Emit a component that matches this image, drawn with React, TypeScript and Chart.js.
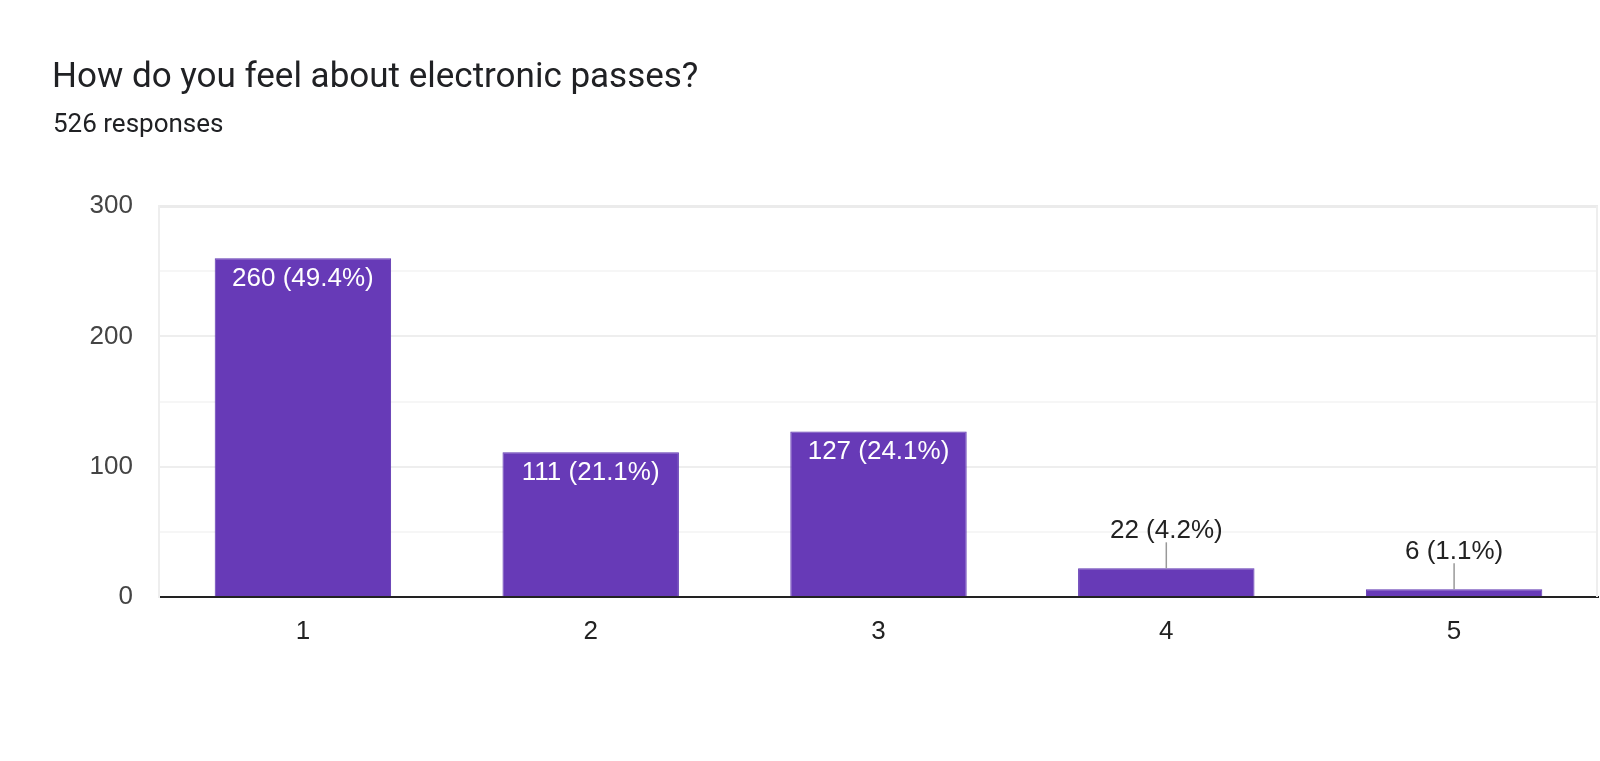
import React, { useEffect, useRef } from "react";
import { Chart, registerables } from "chart.js";

Chart.register(...registerables);

const title = "How do you feel about electronic passes?";
const subtitle = "526 responses";
const categories = ["1", "2", "3", "4", "5"];
const responses = [260, 111, 127, 22, 6];
const yTicks = [0, 50, 100, 150, 200, 250, 300];

const total = responses.reduce((a, b) => a + b, 0);
const chartFont = "'Liberation Sans', Arial, sans-serif";

// header text, frame on the right and value labels on the bars
const decorations = {
  id: "decorations",
  beforeDraw(chart: any) {
    const ctx = chart.ctx;
    ctx.save();
    ctx.fillStyle = "#ffffff";
    ctx.fillRect(0, 0, chart.width, chart.height);
    ctx.fillStyle = "#202124";
    ctx.textAlign = "left";
    ctx.textBaseline = "alphabetic";
    ctx.font = "35px Roboto";
    ctx.fillText(title, 52, 87);
    ctx.font = "26px Roboto";
    ctx.fillText(subtitle, 53, 132);
    ctx.restore();
  },
  afterDatasetsDraw(chart: any) {
    const ctx = chart.ctx;
    const { right, top, bottom } = chart.chartArea;
    ctx.save();
    ctx.strokeStyle = "#eeeeee";
    ctx.lineWidth = 2;
    ctx.beginPath();
    ctx.moveTo(right - 1, top);
    ctx.lineTo(right - 1, bottom);
    ctx.stroke();

    const meta = chart.getDatasetMeta(0);
    ctx.font = `26px ${chartFont}`;
    ctx.textAlign = "center";
    ctx.textBaseline = "alphabetic";
    meta.data.forEach((bar: any, i: number) => {
      const v = responses[i];
      const text = `${v} (${((v / total) * 100).toFixed(1)}%)`;
      const h = bar.base - bar.y;
      if (h > 40) {
        ctx.fillStyle = "#ffffff";
        ctx.fillText(text, bar.x, bar.y + 28);
      } else {
        ctx.strokeStyle = "#999999";
        ctx.lineWidth = 1.5;
        ctx.beginPath();
        ctx.moveTo(bar.x, bar.y);
        ctx.lineTo(bar.x, bar.y - 26);
        ctx.stroke();
        ctx.fillStyle = "#222222";
        ctx.fillText(text, bar.x, bar.y - 30);
      }
    });
    ctx.restore();
  },
};

const App: React.FC = () => {
  const canvasRef = useRef<HTMLCanvasElement | null>(null);
  const chartRef = useRef<Chart | null>(null);

  useEffect(() => {
    document.body.style.margin = "0";
    const ctx = canvasRef.current?.getContext("2d");
    if (!ctx) return;
    chartRef.current = new Chart(ctx, {
      type: "bar",
      data: {
        labels: categories,
        datasets: [
          {
            data: responses,
            backgroundColor: "#673ab7",
            borderColor: "#5e35b1",
            borderWidth: 1,
            categoryPercentage: 1,
            barPercentage: 0.613,
          },
        ],
      },
      options: {
        animation: false,
        responsive: false,
        layout: { padding: { left: 0, right: 2, top: 206, bottom: 0 } },
        plugins: {
          legend: { display: false },
          tooltip: { enabled: false },
        },
        scales: {
          x: {
            grid: { display: false },
            border: { color: "#222222", width: 2 },
            ticks: { color: "#222222", font: { family: chartFont, size: 26 }, padding: 11 },
            afterFit: (scale: any) => {
              scale.height = 164;
            },
          },
          y: {
            min: 0,
            max: 300,
            afterBuildTicks: (scale: any) => {
              scale.ticks = yTicks.map((v) => ({ value: v }));
            },
            grid: {
              color: (c: any) => {
                const v = c.tick?.value;
                if (v === 300) return "#ebebeb";
                return v % 100 === 0 ? "#eeeeee" : "#f6f6f6";
              },
              lineWidth: (c: any) => (c.tick?.value === 300 ? 3 : 2),
              drawTicks: false,
            },
            border: { color: "#eeeeee", width: 2 },
            ticks: {
              color: "#444444",
              font: { family: chartFont, size: 26 },
              padding: 26,
              callback: (v: any) => (v % 100 === 0 ? String(v) : ""),
            },
            afterFit: (scale: any) => {
              scale.width = 159;
            },
          },
        },
      },
      plugins: [decorations],
    });
    return () => {
      chartRef.current?.destroy();
    };
  }, []);

  return (
    <div style={{ position: "relative", width: 1600, height: 761, background: "#fff" }}>
      <canvas ref={canvasRef} width={1600} height={761} style={{ display: "block" }} />
    </div>
  );
};

export default App;
